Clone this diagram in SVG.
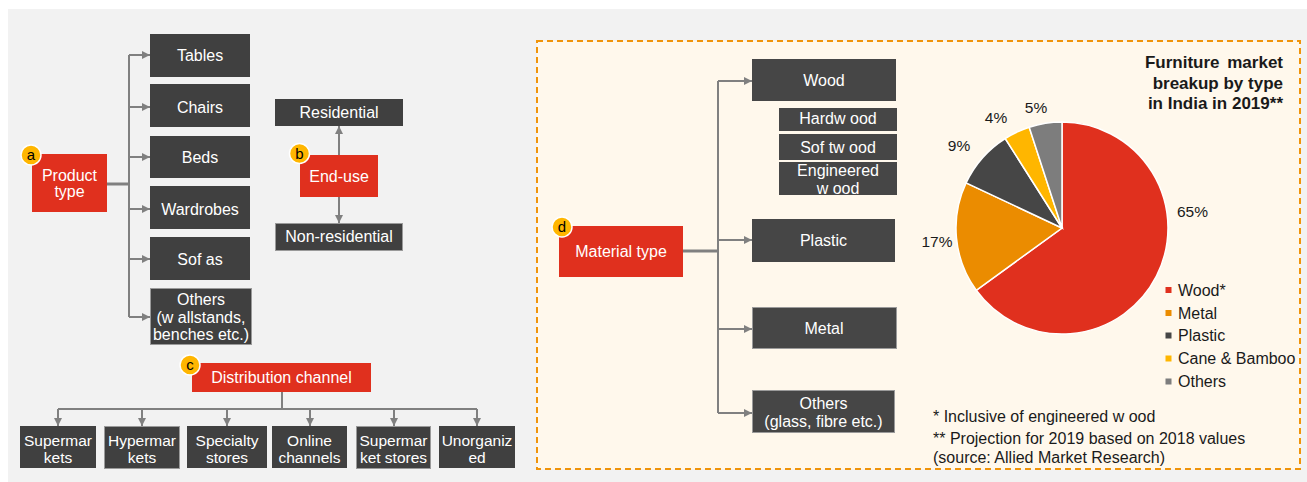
<svg xmlns="http://www.w3.org/2000/svg" width="1307" height="482" viewBox="0 0 1307 482">
<style>
text{font-family:"Liberation Sans",Arial,sans-serif;}
.bx{fill:#404040;}
.bx2{fill:#464646;}
.bd{stroke:#9a9a9a;stroke-width:1;}
.red{fill:#E0301E;}
.wt{fill:#ffffff;font-size:16px;text-anchor:middle;}
.wt2{fill:#ffffff;font-size:15.5px;text-anchor:middle;}
.ln{stroke:#808080;stroke-width:2;fill:none;}
.tr{stroke:#808080;stroke-width:3;fill:none;}
.arr{stroke:#808080;stroke-width:2;fill:none;marker-end:url(#ah);}
.bdg{fill:#FFB600;stroke:#ffffff;stroke-width:1.5;}
.bt{fill:#000000;font-size:15px;text-anchor:middle;}
.dk{fill:#1a1a1a;font-size:16px;}
.pl{fill:#1a1a1a;font-size:15.5px;text-anchor:middle;}
</style>
<defs>
<marker id="ah" markerUnits="userSpaceOnUse" markerWidth="8" markerHeight="8" refX="8" refY="4" orient="auto">
<path d="M0,0 L8,4 L0,8 z" fill="#808080"/>
</marker>
</defs>
<rect x="0" y="0" width="1307" height="482" fill="#ffffff"/>
<rect x="8" y="9" width="1299" height="473" fill="#f2f2f2"/>
<rect x="537" y="41" width="763" height="428" fill="#FFF8EC" stroke="#F0940A" stroke-width="2" stroke-dasharray="6,4"/>

<g id="connectors">
<path class="tr" d="M107,184 H129"/>
<path class="ln" d="M129,55 V317"/>
<path class="arr" d="M129,55 H150"/>
<path class="arr" d="M129,107 H150"/>
<path class="arr" d="M129,157 H150"/>
<path class="arr" d="M129,209 H150"/>
<path class="arr" d="M129,259 H150"/>
<path class="arr" d="M129,317 H150"/>
<path class="arr" d="M339,155 V126"/>
<path class="arr" d="M339,197 V223"/>
<path class="ln" d="M282,392 V409"/>
<path class="ln" d="M58,409 H477"/>
<path class="arr" d="M58,409 V426"/>
<path class="arr" d="M142,409 V426"/>
<path class="arr" d="M227,409 V426"/>
<path class="arr" d="M310,409 V426"/>
<path class="arr" d="M394,409 V426"/>
<path class="arr" d="M477,409 V426"/>
<path class="tr" d="M683,251 H718"/>
<path class="ln" d="M718,81 V413"/>
<path class="arr" d="M718,81 H752"/>
<path class="arr" d="M718,240 H752"/>
<path class="arr" d="M718,329 H752"/>
<path class="arr" d="M718,413 H752"/>
</g>

<g id="product-type">
<rect class="red" x="32" y="154" width="75" height="58"/>
<text class="wt" x="69.5" y="180.5">Product</text>
<text class="wt" x="69.5" y="197">type</text>
<circle class="bdg" cx="31" cy="155" r="10"/>
<text class="bt" x="31" y="160">a</text>
</g>
<g id="tables"><rect class="bx" x="150" y="34" width="100" height="43"/><text class="wt" x="200" y="61">Tables</text></g>
<g id="chairs"><rect class="bx" x="150" y="84" width="100" height="43"/><text class="wt" x="200" y="112.5">Chairs</text></g>
<g id="beds"><rect class="bx" x="150" y="136" width="100" height="42"/><text class="wt" x="200" y="162.5">Beds</text></g>
<g id="wardrobes"><rect class="bx" x="150" y="186" width="100" height="43"/><text class="wt" x="200" y="214.5">Wardrobes</text></g>
<g id="sofas"><rect class="bx" x="150" y="237" width="100" height="43"/><text class="wt" x="200" y="265">Sof as</text></g>
<g id="others-product"><rect class="bx bd" x="150.5" y="288.5" width="101" height="56"/>
<text class="wt" x="201" y="305">Others</text>
<text class="wt" x="201" y="323">(w allstands,</text>
<text class="wt" x="201" y="340">benches etc.)</text></g>

<g id="end-use">
<rect class="red" x="300" y="155" width="78" height="42"/>
<text class="wt" x="339" y="181.5">End-use</text>
<circle class="bdg" cx="299.5" cy="153.5" r="10"/>
<text class="bt" x="299.5" y="158.5">b</text>
</g>
<g id="residential"><rect class="bx" x="275" y="99" width="128" height="27"/><text class="wt" x="339" y="117.5">Residential</text></g>
<g id="non-residential"><rect class="bx bd" x="275.5" y="223.5" width="127" height="27"/><text class="wt" x="339" y="242">Non-residential</text></g>

<g id="distribution-channel">
<rect class="red" x="192" y="363" width="179" height="29"/>
<text class="wt" x="281.5" y="383">Distribution channel</text>
<circle class="bdg" cx="190" cy="365" r="10"/>
<text class="bt" x="190" y="370">c</text>
</g>
<g id="supermarkets"><rect class="bx" x="20" y="426" width="76" height="42"/><text class="wt2" x="58" y="445.5">Supermar</text><text class="wt2" x="58" y="462.5">kets</text></g>
<g id="hypermarkets"><rect class="bx bd" x="104.5" y="426.5" width="75" height="42"/><text class="wt2" x="142" y="445.5">Hypermar</text><text class="wt2" x="142" y="462.5">kets</text></g>
<g id="specialty"><rect class="bx" x="187" y="426" width="80" height="42"/><text class="wt2" x="227" y="445.5">Specialty</text><text class="wt2" x="227" y="462.5">stores</text></g>
<g id="online"><rect class="bx" x="272" y="426" width="75" height="42"/><text class="wt2" x="309.5" y="445.5">Online</text><text class="wt2" x="309.5" y="462.5">channels</text></g>
<g id="supermarket-stores"><rect class="bx bd" x="356.5" y="426.5" width="74" height="42"/><text class="wt2" x="393.5" y="445.5">Supermar</text><text class="wt2" x="393.5" y="462.5">ket stores</text></g>
<g id="unorganized"><rect class="bx" x="439" y="426" width="76" height="42"/><text class="wt2" x="477" y="445.5">Unorganiz</text><text class="wt2" x="477" y="462.5">ed</text></g>

<g id="material-type">
<rect class="red" x="559" y="226" width="124" height="51"/>
<text class="wt" x="621" y="256.5">Material type</text>
<circle class="bdg" cx="562" cy="227" r="10"/>
<text class="bt" x="562" y="232">d</text>
</g>
<g id="wood"><rect class="bx2" x="752" y="59" width="144" height="42"/><text class="wt" x="824" y="85.5">Wood</text></g>
<g id="hardwood"><rect class="bx2" x="779" y="108" width="118" height="23"/><text class="wt" x="838" y="124">Hardw ood</text></g>
<g id="softwood"><rect class="bx2" x="779" y="134" width="118" height="26"/><text class="wt" x="838" y="152.5">Sof tw ood</text></g>
<g id="engineered"><rect class="bx2" x="779" y="162" width="118" height="33"/><text class="wt" x="838" y="176">Engineered</text><text class="wt" x="838" y="193.5">w ood</text></g>
<g id="plastic"><rect class="bx2" x="752" y="219" width="143" height="43"/><text class="wt" x="823.5" y="245.5">Plastic</text></g>
<g id="metal"><rect class="bx2 bd" x="752.5" y="307.5" width="144" height="41"/><text class="wt" x="824" y="333.5">Metal</text></g>
<g id="others-material"><rect class="bx2 bd" x="752.5" y="390.5" width="142" height="42"/><text class="wt" x="823.5" y="409">Others</text><text class="wt" x="823.5" y="427">(glass, fibre etc.)</text></g>

<g id="pie-chart">
<g stroke="#ffffff" stroke-width="1.5">
<path d="M1062,228 L1062,122 A106,106 0 1 1 976.24,290.31 Z" fill="#E0301E"/>
<path d="M1062,228 L976.24,290.31 A106,106 0 0 1 966.09,182.87 Z" fill="#EB8C00"/>
<path d="M1062,228 L966.09,182.87 A106,106 0 0 1 1005.20,138.50 Z" fill="#464646"/>
<path d="M1062,228 L1005.20,138.50 A106,106 0 0 1 1029.24,127.19 Z" fill="#FFB600"/>
<path d="M1062,228 L1029.24,127.19 A106,106 0 0 1 1062,122 Z" fill="#7D7D7D"/>
</g>
<text class="pl" x="1192.5" y="217">65%</text>
<text class="pl" x="937" y="247">17%</text>
<text class="pl" x="959" y="151">9%</text>
<text class="pl" x="996" y="122.5">4%</text>
<text class="pl" x="1036" y="113">5%</text>
<g font-weight="bold" font-size="17" text-anchor="end" fill="#1a1a1a">
<text x="1283" y="68" word-spacing="3">Furniture market</text>
<text x="1283" y="89">breakup by type</text>
<text x="1283" y="109">in India in 2019**</text>
</g>
</g>

<g id="legend">
<rect x="1165.5" y="287" width="6" height="6" fill="#E0301E"/>
<text class="dk" x="1178" y="295.5">Wood*</text>
<rect x="1165.5" y="310" width="6" height="6" fill="#EB8C00"/>
<text class="dk" x="1178" y="318.5">Metal</text>
<rect x="1165.5" y="332.5" width="6" height="6" fill="#464646"/>
<text class="dk" x="1178" y="341">Plastic</text>
<rect x="1165.5" y="355.5" width="6" height="6" fill="#FFB600"/>
<text class="dk" x="1178" y="364">Cane &amp; Bamboo</text>
<rect x="1165.5" y="378.5" width="6" height="6" fill="#7D7D7D"/>
<text class="dk" x="1178" y="387">Others</text>
</g>

<g id="notes">
<text class="dk" x="933" y="422">* Inclusive of engineered w ood</text>
<text class="dk" x="933" y="444">** Projection for 2019 based on 2018 values</text>
<text class="dk" x="933" y="463">(source: Allied Market Research)</text>
</g>
</svg>
